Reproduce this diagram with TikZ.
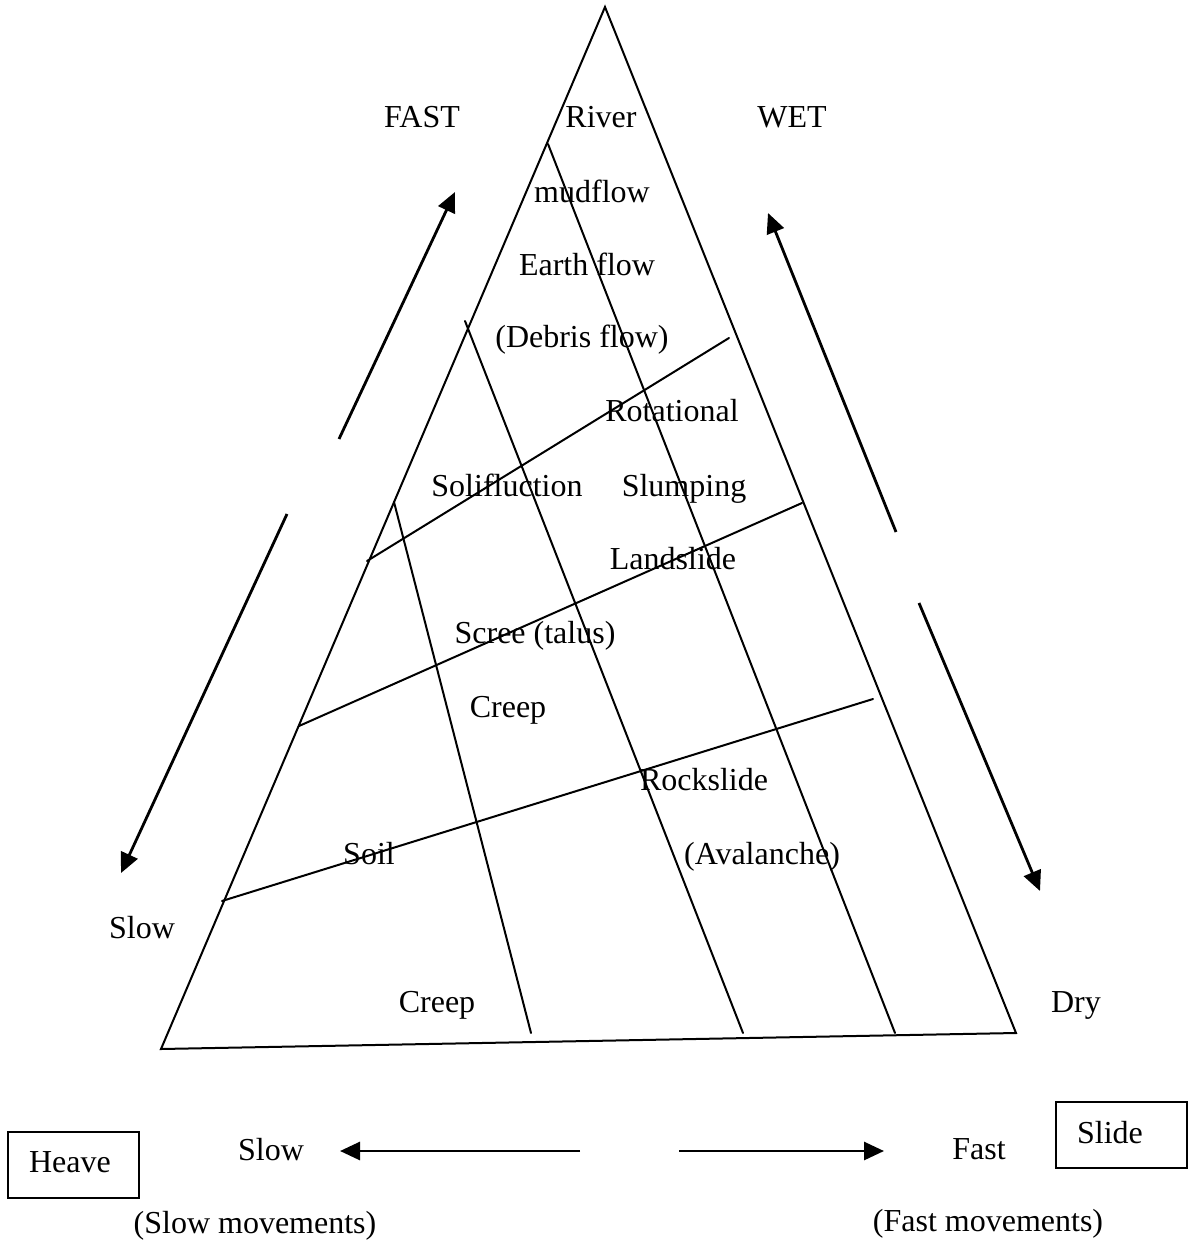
\documentclass[tikz,border=0pt]{standalone}
\usepackage{fontspec}
\setmainfont{Liberation Serif}
\usetikzlibrary{arrows.meta}
\tikzset{
  edge/.style={line width=1pt, line cap=round},
  bigarrow/.style={line width=1.4pt, -{Triangle[length=10pt,width=9pt]}},
  lbl/.style={inner sep=0pt, anchor=base, font=\fontsize{16}{19}\selectfont},
  boxed/.style={draw, line width=1pt, minimum width=65.5pt, minimum height=33pt, inner sep=0pt},
}
\begin{document}
\begin{tikzpicture}[x=0.5pt,y=-0.5pt]
\useasboundingbox (0,0) rectangle (1191,1240);
% triangle
\coordinate (A) at (605,7);
\coordinate (BL) at (161,1049);
\coordinate (BR) at (1016,1033);
\draw[edge, line join=miter] (A) -- (BL) -- (BR) -- cycle;
% inner lines (down to base)
\coordinate (l1a) at (548,144);  \coordinate (l1b) at (895,1033);
\coordinate (l2a) at (465,321);  \coordinate (l2b) at (743,1033);
\coordinate (l3a) at (394,502);  \coordinate (l3b) at (531,1033);
\draw[edge] (l1a) -- (l1b);
\draw[edge] (l2a) -- (l2b);
\draw[edge] (l3a) -- (l3b);
% cross lines
\coordinate (h1a) at (367,561);  \coordinate (h1b) at (729,338);
\coordinate (h2a) at (299,726);  \coordinate (h2b) at (802,503);
\coordinate (h3a) at (222,901);  \coordinate (h3b) at (873,699);
\draw[edge] (h1a) -- (h1b);
\draw[edge] (h2a) -- (h2b);
\draw[edge] (h3a) -- (h3b);
% arrows
\coordinate (a1s) at (339,439); \coordinate (a1e) at (455,192);
\coordinate (a2s) at (287,514); \coordinate (a2e) at (121,873);
\coordinate (a3s) at (896,532); \coordinate (a3e) at (768,213);
\coordinate (a4s) at (919,603); \coordinate (a4e) at (1040,891);
\coordinate (a5s) at (580,1151); \coordinate (a5e) at (340,1151);
\coordinate (a6s) at (679,1151); \coordinate (a6e) at (884,1151);
\draw[bigarrow] (a1s) -- (a1e);
\draw[bigarrow] (a2s) -- (a2e);
\draw[bigarrow] (a3s) -- (a3e);
\draw[bigarrow] (a4s) -- (a4e);
\draw[bigarrow] (a5s) -- (a5e);
\draw[bigarrow] (a6s) -- (a6e);
% labels
\node[lbl] (fast) at (422,128) {FAST};
\node[lbl] (river) at (601,128) {River};
\node[lbl] (wet) at (792,128) {WET};
\node[lbl] (mud) at (592,203) {mudflow};
\node[lbl] (earth) at (587,276) {Earth flow};
\node[lbl] (debris) at (582,348) {(Debris flow)};
\node[lbl] (rot) at (672,422) {Rotational};
\node[lbl] (soli) at (507,496) {Solifluction};
\node[lbl] (slump) at (684,496) {Slumping};
\node[lbl] (land) at (673,569) {Landslide};
\node[lbl] (scree) at (535,643) {Scree (talus)};
\node[lbl] (creep1) at (508,717) {Creep};
\node[lbl] (rock) at (704,790) {Rockslide};
\node[lbl] (soil) at (369,864) {Soil};
\node[lbl] (aval) at (762,864) {(Avalanche)};
\node[lbl] (slowl) at (142,938) {Slow};
\node[lbl] (creep2) at (437,1012) {Creep};
\node[lbl] (dry) at (1076,1012) {Dry};
\node[lbl] (slowb) at (271,1160) {Slow};
\node[lbl] (fastb) at (979,1159) {Fast};
\node[lbl] (slowm) at (255,1233) {(Slow movements)};
\node[lbl] (fastm) at (988,1231) {(Fast movements)};
% boxes
\node[boxed] (heavebox) at (73.5,1165) {};
\node[lbl] (heave) at (70,1172) {Heave};
\node[boxed] (slidebox) at (1121.5,1135) {};
\node[lbl] (slide) at (1110,1143) {Slide};
\end{tikzpicture}
\end{document}
